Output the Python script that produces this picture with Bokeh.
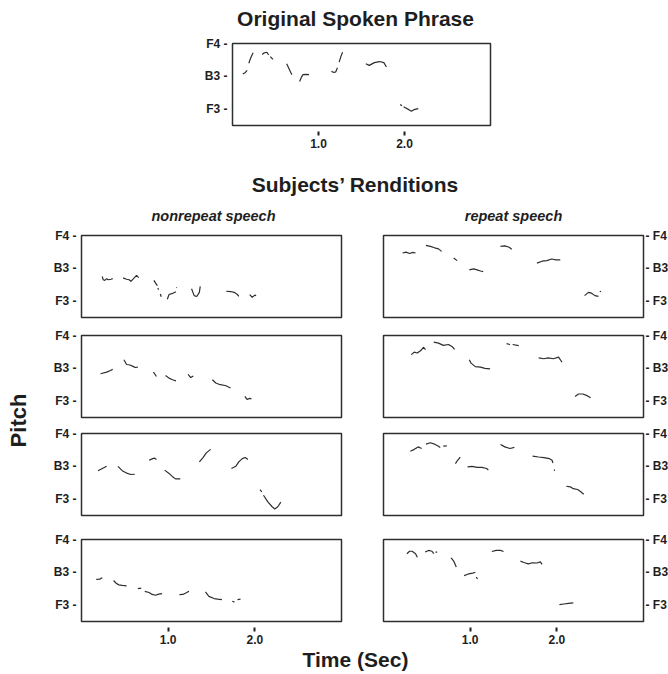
from bokeh.plotting import figure
from bokeh.layouts import column, row
from bokeh.models import Range1d, FixedTicker
from bokeh.core.properties import value
from bokeh.embed import file_html
from bokeh.resources import INLINE

FONT = "Liberation Sans"
INK = "#1e1e1e"
LINE = "#2e2e2e"

# ---------------- data (time in s, pitch in MIDI semitones) ----------------
pitch_ticks = [53, 59, 65]
pitch_labels = ["F3", "B3", "F4"]
time_ticks = [1.0, 2.0]
time_labels = ["1.0", "2.0"]

# Original spoken phrase
orig_t = [[0.12, 0.15, 0.17], [0.19, 0.21, 0.23, 0.24], [0.345, 0.37, 0.40, 0.42], [0.44, 0.47],
          [0.63, 0.66, 0.69], [0.78, 0.80, 0.82, 0.85, 0.89], [1.15, 1.18, 1.20, 1.22],
          [1.24, 1.26, 1.28], [1.55, 1.59, 1.65, 1.71, 1.76, 1.79], [1.95, 1.97],
          [1.99, 2.01, 2.05, 2.08, 2.11, 2.16]]
orig_p = [[59.4, 59.7, 60.1], [61.4, 62.3, 63.0, 63.3], [63.0, 63.3, 63.4, 62.9], [62.6, 62.1],
          [61.3, 60.3, 59.3], [58.05, 58.8, 59.3, 59.35, 59.3], [59.9, 59.7, 59.8, 60.55],
          [61.6, 62.6, 63.4], [61.3, 61.0, 61.5, 61.7, 61.5, 60.7], [53.85, 53.6],
          [53.4, 53.25, 52.9, 52.6, 52.9, 53.1]]

# Nonrepeat speech, subjects 1-4
nr1_t = [[0.24, 0.25, 0.27, 0.29, 0.31, 0.34, 0.36], [0.48, 0.52, 0.55, 0.57, 0.60, 0.635, 0.66],
         [0.835, 0.855, 0.875], [0.88, 0.89], [0.91, 0.92], [0.99, 1.01, 1.05, 1.09], [1.095, 1.10],
         [1.27, 1.30, 1.33, 1.36, 1.37], [1.67, 1.72, 1.76, 1.80, 1.815], [1.94, 1.97, 2.0, 2.015]]
nr1_p = [[57.5, 56.9, 56.8, 57.1, 56.9, 57.0, 57.1], [57.25, 57.0, 56.9, 56.6, 57.1, 57.7, 57.3],
         [56.8, 56.3, 55.8], [55.4, 55.1], [54.3, 53.8], [53.35, 54.2, 54.4, 54.7], [55.4, 55.5],
         [55.25, 54.0, 53.85, 54.6, 55.7], [54.8, 54.75, 54.6, 54.2, 53.85], [54.2, 53.7, 54.1, 54.0]]

nr2_t = [[0.22, 0.29, 0.335, 0.36], [0.49, 0.52, 0.56, 0.60, 0.62, 0.65], [0.83, 0.865],
         [0.97, 1.01, 1.05, 1.09], [1.23, 1.26, 1.29], [1.51, 1.55, 1.60, 1.66, 1.72],
         [1.885, 1.91, 1.94, 1.96]]
nr2_p = [[58.0, 58.3, 58.6, 58.8], [60.55, 59.7, 59.6, 59.3, 59.15, 59.2], [58.3, 57.5],
         [57.7, 57.2, 56.9, 56.7], [57.9, 57.3, 57.6], [56.9, 56.3, 56.0, 55.85, 55.4],
         [53.85, 53.3, 53.5, 53.4]]

nr3_t = [[0.19, 0.24, 0.29], [0.42, 0.47, 0.53, 0.57, 0.615], [0.78, 0.815, 0.84, 0.865],
         [0.96, 1.01, 1.05, 1.085, 1.14], [1.36, 1.40, 1.44, 1.49],
         [1.73, 1.78, 1.815, 1.855, 1.89, 1.92], [2.06, 2.08], [2.10, 2.15, 2.20, 2.23, 2.265, 2.30]]
nr3_p = [[58.2, 58.6, 59.0], [59.0, 58.2, 57.7, 57.5, 57.55], [60.1, 60.35, 60.5, 60.25],
         [58.3, 57.7, 57.1, 56.7, 56.7], [59.8, 60.55, 61.45, 62.1],
         [58.6, 59.0, 59.8, 60.4, 60.6, 60.25], [54.75, 54.3], [53.7, 52.5, 51.6, 51.2, 51.6, 52.45]]

nr4_t = [[0.17, 0.21, 0.24], [0.37, 0.40, 0.43, 0.47, 0.52], [0.65, 0.69],
         [0.73, 0.78, 0.815, 0.855, 0.89, 0.93], [1.13, 1.17, 1.21, 1.24],
         [1.43, 1.47, 1.53, 1.57, 1.62], [1.74, 1.765], [1.80, 1.835]]
nr4_p = [[57.7, 57.75, 58.0], [57.5, 57.0, 56.7, 56.6, 56.5], [56.0, 56.1],
         [55.5, 55.3, 54.95, 54.8, 55.0, 55.1], [54.9, 54.95, 55.25, 55.55],
         [55.4, 54.6, 54.2, 54.1, 54.0], [53.7, 53.55], [54.0, 54.1]]

# Repeat speech, subjects 1-4
rp1_t = [[0.22, 0.26, 0.30, 0.34, 0.37], [0.49, 0.54, 0.59, 0.635, 0.67], [0.81, 0.85],
         [0.99, 1.04, 1.08, 1.12, 1.15], [1.35, 1.40, 1.45, 1.48],
         [1.77, 1.83, 1.885, 1.94, 1.99, 2.04], [2.32, 2.365, 2.40, 2.44, 2.48], [2.495, 2.51]]
rp1_p = [[61.8, 61.95, 61.7, 61.9, 61.8], [63.2, 63.0, 62.75, 62.55, 62.1], [60.9, 60.4],
         [58.7, 58.9, 58.7, 58.5, 58.4], [63.0, 63.1, 62.85, 62.5],
         [59.95, 60.3, 60.4, 60.7, 60.55, 60.55], [54.0, 54.6, 54.45, 54.0, 53.85], [54.7, 54.8]]

rp2_t = [[0.32, 0.355, 0.39, 0.43, 0.46, 0.485], [0.58, 0.635, 0.69, 0.75, 0.79, 0.82],
         [0.99, 1.01, 1.06, 1.12, 1.17, 1.23], [1.42, 1.46], [1.49, 1.56],
         [1.79, 1.85, 1.90, 1.96, 2.02, 2.06], [2.21, 2.25, 2.30, 2.35, 2.39]]
rp2_p = [[61.5, 61.95, 61.8, 62.25, 62.85, 62.4], [63.8, 63.6, 63.2, 63.35, 63.0, 62.45],
         [60.55, 59.95, 59.3, 59.2, 59.0, 58.9], [63.5, 63.35], [63.35, 63.15],
         [60.9, 60.75, 60.9, 60.75, 61.05, 60.1], [53.85, 54.3, 54.3, 54.0, 53.6]]

rp3_t = [[0.31, 0.355, 0.40, 0.44], [0.49, 0.54, 0.59, 0.63, 0.655], [0.69, 0.73],
         [0.83, 0.855, 0.885], [0.97, 1.02, 1.08, 1.135, 1.19, 1.21], [1.35, 1.40, 1.46, 1.51],
         [1.72, 1.79, 1.85, 1.915, 1.945, 1.955], [1.97, 1.975],
         [2.11, 2.155, 2.19, 2.24, 2.28, 2.31]]
rp3_p = [[61.75, 62.1, 62.55, 62.25], [63.05, 63.3, 63.05, 62.7, 62.45], [62.7, 62.75],
         [59.5, 60.1, 60.7], [58.9, 59.0, 58.8, 58.8, 58.6, 58.3], [63.0, 62.55, 62.25, 62.45],
         [60.85, 60.7, 60.6, 60.4, 60.1, 59.6], [58.4, 58.2],
         [55.35, 55.25, 54.9, 54.75, 54.3, 53.9]]

rp4_t = [[0.27, 0.30, 0.33, 0.37, 0.39], [0.48, 0.52, 0.56, 0.58], [0.60, 0.62],
         [0.78, 0.81, 0.84], [0.93, 0.98, 1.03, 1.06], [1.07, 1.085], [1.25, 1.30, 1.35, 1.385],
         [1.58, 1.62, 1.67, 1.72, 1.77, 1.81, 1.83], [2.03, 2.08, 2.135, 2.19]]
rp4_p = [[62.4, 62.85, 62.85, 62.4, 61.75], [62.7, 63.0, 62.85, 62.4], [62.7, 62.7],
         [61.65, 61.05, 59.95], [58.4, 58.7, 58.85, 59.0], [58.1, 57.8], [62.8, 63.0, 63.0, 62.8],
         [61.05, 60.8, 60.55, 60.75, 60.7, 60.9, 60.45], [53.1, 53.2, 53.3, 53.4]]

# ---------------- helpers ----------------
def text_fig(x0, x1, y0, y1, bl, br, items):
    """Blank figure whose frame spans page pixels x0..x1, y0..y1 (data = page px)."""
    p = figure(frame_width=x1 - x0, frame_height=y1 - y0,
               x_range=Range1d(x0, x1), y_range=Range1d(y1, y0),
               x_axis_location=None, y_axis_location=None, toolbar_location=None,
               output_backend="svg", min_border_left=bl, min_border_right=br,
               min_border_top=0, min_border_bottom=0, outline_line_color=None)
    p.grid.visible = False
    for (x, y, txt, size, style, ang) in items:
        p.text(x=[x], y=[y], text=[txt], angle=ang, text_font=value(FONT),
               text_font_size=size, text_font_style=style, text_color=INK,
               text_align="center", text_baseline="middle")
    return p


def panel(ts, ps, side, show_x, fw, mb):
    p = figure(frame_width=fw, frame_height=82, x_range=Range1d(0, 3), y_range=Range1d(50, 65),
               x_axis_location="below" if show_x else None, y_axis_location=side,
               toolbar_location=None, output_backend="svg",
               min_border_left=mb[0], min_border_right=mb[1],
               min_border_top=mb[2], min_border_bottom=mb[3])
    p.grid.visible = False
    p.outline_line_color = LINE
    p.outline_line_width = 1.5
    p.multi_line(xs=ts, ys=ps, line_color=LINE, line_width=1.2)
    ya = p.yaxis[0]
    ya.ticker = FixedTicker(ticks=pitch_ticks)
    ya.major_label_overrides = {v: (f"{l} -" if side == "left" else f"- {l}")
                                for v, l in zip(pitch_ticks, pitch_labels)}
    ya.axis_line_color = None
    ya.major_tick_line_color = None
    ya.minor_tick_line_color = None
    ya.major_tick_in = 0
    ya.major_tick_out = 0
    ya.major_label_standoff = 5 if side == "left" else 2
    for ax in [ya] + (list(p.xaxis) if show_x else []):
        ax.major_label_text_font = FONT
        ax.major_label_text_font_style = "bold"
        ax.major_label_text_font_size = "12px"
        ax.major_label_text_color = INK
    if show_x:
        xa = p.xaxis[0]
        xa.ticker = FixedTicker(ticks=time_ticks)
        xa.major_label_overrides = {v: l for v, l in zip(time_ticks, time_labels)}
        xa.axis_line_color = None
        xa.minor_tick_line_color = None
        xa.major_tick_in = -6
        xa.major_tick_out = 10
        xa.major_tick_line_width = 2
        xa.major_tick_line_color = INK
        xa.major_label_standoff = 3
    return p


# page-pixel layout (window 668 x 674, no body margin)
TL, TR = 232, 178          # borders of the full-width strip (frame 232..490)
head = text_fig(232, 490, 0, 30, TL, TR,
                [(355, 17.5, "Original Spoken Phrase", "21px", "bold", 0)])
top = panel(orig_t, orig_p, "left", True, 258, (TL, TR, 13, 35))
mid = text_fig(232, 490, 160, 196, TL, TR,
               [(355, 184, "Subjects\u2019 Renditions", "21px", "bold", 0)])

LB = (43, 21)   # left column borders  -> frame 81..341
RB = (21, 25)   # right column borders -> frame 383..643
head_l = text_fig(81, 341, 196, 225, LB[0], LB[1],
                  [(213, 215, "nonrepeat speech", "14.5px", "bold italic", 0)])
head_r = text_fig(383, 643, 196, 225, RB[0], RB[1],
                  [(513, 215, "repeat speech", "14.5px", "bold italic", 0)])

left_data = [(nr1_t, nr1_p), (nr2_t, nr2_p), (nr3_t, nr3_p), (nr4_t, nr4_p)]
right_data = [(rp1_t, rp1_p), (rp2_t, rp2_p), (rp3_t, rp3_p), (rp4_t, rp4_p)]
tb = [(10, 9), (9, 7), (9, 12), (12, 26)]   # top/bottom borders per row
left_col = [head_l]
right_col = [head_r]
for i in range(4):
    show_x = i == 3
    left_col.append(panel(left_data[i][0], left_data[i][1], "left", show_x, 260,
                          (LB[0], LB[1], tb[i][0], tb[i][1])))
    right_col.append(panel(right_data[i][0], right_data[i][1], "right", show_x, 260,
                           (RB[0], RB[1], tb[i][0], tb[i][1])))

block_bottom = 225 + sum(t + 82 + b for t, b in tb)
pitch = text_fig(0, 38, 196, block_bottom, 0, 0,
                 [(18, 420, "Pitch", "22px", "bold", 1.5707963)])
time_fig = text_fig(232, 490, block_bottom, 673, TL, TR,
                    [(355, 659, "Time (Sec)", "21px", "bold", 0)])

layout = column(head, top, mid,
                row(pitch, column(*left_col), column(*right_col)),
                time_fig)

with open("out.html", "w") as f:
    f.write(file_html(layout, INLINE))
